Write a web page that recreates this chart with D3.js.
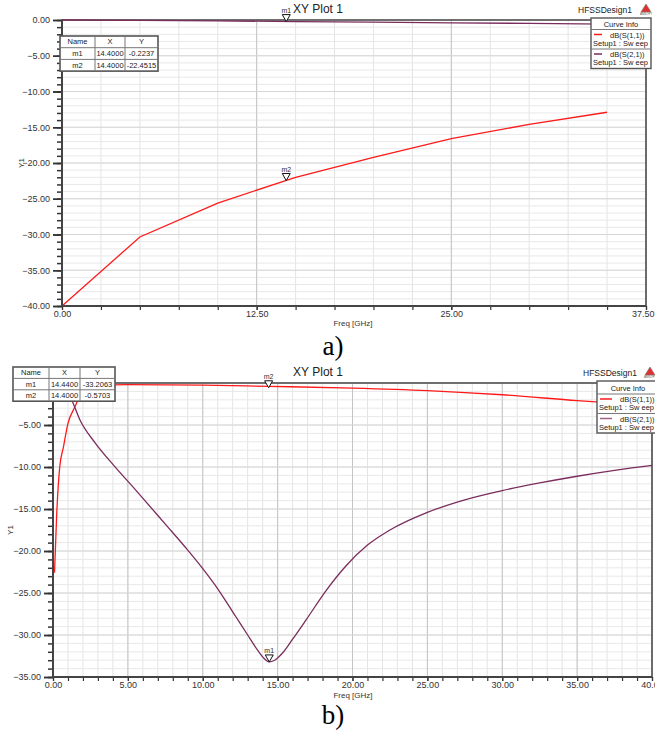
<!DOCTYPE html>
<html>
<head>
<meta charset="utf-8">
<script src="https://cdn.jsdelivr.net/npm/d3@7"></script>
<style>
  body { margin: 0; background: #fff; }
  svg { display: block; font-family: "Liberation Sans", Arial, sans-serif; }
</style>
</head>
<body>
<div id="chart"></div>
<script>
// plot a) - coarse sweep
const freqA = [0, 5, 10, 15, 20, 25, 30, 35];
const s11A = [-40, -30.35, -25.6, -22.0, -19.2, -16.6, -14.6, -12.9];
const s21A = [0, -0.05, -0.12, -0.23, -0.31, -0.39, -0.48, -0.58];
const markersA = [
  { name: 'm1', x: 14.4, y: -0.2237 },
  { name: 'm2', x: 14.4, y: -22.4515 }
];

// plot b) - fine sweep
const freqB11 = [0.1, 0.25, 0.45, 0.7, 1.0, 1.45, 1.9, 2.3, 3, 5, 10, 14.4, 20, 25, 30, 35, 40];
const s11B = [-22.6, -15.5, -10, -7.6, -4.8, -2.9, -1.2, -0.5, -0.3, -0.2, -0.25, -0.4, -0.6, -0.9, -1.4, -2.1, -2.7];
const freqB21 = [0, 0.5, 1.0, 1.24, 1.8, 2.8, 4.1, 5.6, 7.5, 9, 10, 11, 12.2, 13.0, 13.7, 14.1, 14.44, 14.8, 15.3, 16, 16.9, 18.2, 19.5, 21, 22.5, 25, 27.5, 30, 32.5, 35, 37.5, 40];
const s21B = [-0.1, -0.4, -1.2, -2.0, -4.4, -7.1, -9.9, -12.9, -16.8, -19.9, -22.1, -24.5, -27.8, -30.0, -31.9, -32.8, -33.2, -33.0, -32.2, -30.5, -28.2, -24.8, -21.9, -19.3, -17.5, -15.4, -13.9, -12.8, -11.9, -11.1, -10.4, -9.8];
const markersB = [
  { name: 'm1', x: 14.44, y: -33.2063 },
  { name: 'm2', x: 14.4, y: -0.5703 }
];

const curveNames = ['dB(S(1,1))', 'dB(S(2,1))'];
const RED = '#ff1a1a', PURPLE = '#7a2c5c';

const svg = d3.select('#chart').append('svg')
  .attr('width', 655)
  .attr('height', 734);

const fmt = d3.format('.2f');

function drawPlot(cfg) {
  var g = svg.append('g');
  var x = d3.scaleLinear().domain(cfg.xDomain).range([cfg.left, cfg.right]);
  var y = d3.scaleLinear().domain(cfg.yDomain).range([cfg.bottom, cfg.top]);
  var w = cfg.right - cfg.left, h = cfg.bottom - cfg.top;

  // grid: minor then major
  var xMinor = d3.range(cfg.xDomain[0], cfg.xDomain[1] + 1e-9, cfg.xMinor);
  var xMajor = d3.range(cfg.xDomain[0], cfg.xDomain[1] + 1e-9, cfg.xMajor);
  var yMinor = d3.range(cfg.yDomain[0], cfg.yDomain[1] + 1e-9, cfg.yMinor);
  var yMajor = d3.range(cfg.yDomain[0], cfg.yDomain[1] + 1e-9, cfg.yMajor);

  g.append('g').selectAll('line').data(xMinor).join('line')
    .attr('x1', d => x(d)).attr('x2', d => x(d))
    .attr('y1', cfg.top).attr('y2', cfg.bottom)
    .attr('stroke', '#e4e4e4').attr('stroke-width', 1);
  g.append('g').selectAll('line').data(yMinor).join('line')
    .attr('y1', d => y(d)).attr('y2', d => y(d))
    .attr('x1', cfg.left).attr('x2', cfg.right)
    .attr('stroke', '#e8e8e8').attr('stroke-width', 1);
  g.append('g').selectAll('line').data(xMajor).join('line')
    .attr('x1', d => x(d)).attr('x2', d => x(d))
    .attr('y1', cfg.top).attr('y2', cfg.bottom)
    .attr('stroke', '#c4c4c4').attr('stroke-width', 1);
  g.append('g').selectAll('line').data(yMajor).join('line')
    .attr('y1', d => y(d)).attr('y2', d => y(d))
    .attr('x1', cfg.left).attr('x2', cfg.right)
    .attr('stroke', '#d6d6d6').attr('stroke-width', 1);

  // frame (top/right)
  g.append('rect')
    .attr('x', cfg.left).attr('y', cfg.top)
    .attr('width', w).attr('height', h)
    .attr('fill', 'none').attr('stroke', '#222').attr('stroke-width', 1.2);

  // curves
  var line = d3.line().x(d => x(d[0])).y(d => y(d[1])).curve(cfg.curve);
  cfg.series.forEach(function(s) {
    g.append('path')
      .datum(d3.zip(s.x, s.y))
      .attr('d', line)
      .attr('fill', 'none')
      .attr('stroke', s.color)
      .attr('stroke-width', 1.3);
  });

  // axes
  var yLabelVals = yMajor.filter(v => cfg.hideYLabel === undefined || v !== cfg.hideYLabel);
  var yAxisMinor = d3.axisLeft(y).tickValues(yMinor).tickSize(5).tickFormat('');
  var yAxisMajor = d3.axisLeft(y).tickValues(yMajor).tickSize(9).tickFormat('');
  var yAxis = d3.axisLeft(y).tickValues(yLabelVals).tickSize(9).tickPadding(3).tickFormat(fmt);
  var xAxisMinor = d3.axisBottom(x).tickValues(xMinor).tickSize(4).tickFormat('');
  var xAxis = d3.axisBottom(x).tickValues(xMajor).tickSize(4).tickPadding(1).tickFormat(fmt);

  [yAxisMinor, yAxisMajor, yAxis].forEach(function(ax) {
    var a = g.append('g').attr('transform', 'translate(' + cfg.left + ',0)').call(ax);
    a.select('.domain').remove();
    a.selectAll('line').attr('stroke', '#333').attr('stroke-width', 1.5);
    a.selectAll('text').attr('font-size', 9).attr('fill', '#333')
      .attr('font-family', '"Liberation Sans", Arial, sans-serif');
  });
  [xAxisMinor, xAxis].forEach(function(ax) {
    var a = g.append('g').attr('transform', 'translate(0,' + cfg.bottom + ')').call(ax);
    a.select('.domain').remove();
    a.selectAll('line').attr('stroke', '#333').attr('stroke-width', 1.2);
    a.selectAll('text').attr('font-size', 9).attr('fill', '#333')
      .attr('font-family', '"Liberation Sans", Arial, sans-serif');
    if (cfg.lastXLabelEnd) {
      a.selectAll('.tick').filter(d => d === cfg.xDomain[1]).select('text')
        .attr('text-anchor', 'end').attr('x', 655 - cfg.right - 1);
    }
  });

  // thick left / bottom axis lines
  g.append('line').attr('x1', cfg.left).attr('x2', cfg.left)
    .attr('y1', cfg.top).attr('y2', cfg.bottom + 1)
    .attr('stroke', '#444').attr('stroke-width', 2);
  g.append('line').attr('x1', cfg.left - 1).attr('x2', cfg.right)
    .attr('y1', cfg.bottom).attr('y2', cfg.bottom)
    .attr('stroke', '#444').attr('stroke-width', 2);

  // axis titles
  g.append('text')
    .attr('x', cfg.xLabelX).attr('y', cfg.bottom + cfg.xLabelDy)
    .attr('text-anchor', 'middle').attr('font-size', 8).attr('fill', '#333')
    .text('Freq [GHz]');
  g.append('text')
    .attr('transform', 'translate(' + cfg.yLabelX + ',' + cfg.yLabelY + ') rotate(-90)')
    .attr('text-anchor', 'middle').attr('font-size', 8).attr('fill', '#333')
    .text('Y1');

  // markers
  cfg.markers.forEach(function(m) {
    var px = x(m.x), py = y(m.y);
    g.append('path')
      .attr('d', 'M' + (px - 4) + ',' + (py - 7) + 'L' + (px + 4) + ',' + (py - 7) + 'L' + px + ',' + py + 'Z')
      .attr('fill', '#fff').attr('stroke', '#111').attr('stroke-width', 1);
    g.append('text')
      .attr('x', px).attr('y', py - 9)
      .attr('text-anchor', 'middle').attr('font-size', 7).attr('fill', '#333')
      .text(m.name);
  });

  // title + design name + logo
  g.append('text')
    .attr('x', cfg.titleX).attr('y', cfg.titleY)
    .attr('text-anchor', 'middle').attr('font-size', 12).attr('fill', '#222')
    .text('XY Plot 1');
  g.append('text')
    .attr('x', cfg.designX).attr('y', cfg.titleY)
    .attr('font-size', 8.5).attr('fill', '#222')
    .text('HFSSDesign1');
  var lx = cfg.logoX, ly = cfg.titleY - 9;
  g.append('path')
    .attr('d', 'M' + lx + ',' + ly + 'L' + (lx + 5) + ',' + (ly + 8) + 'L' + (lx - 5) + ',' + (ly + 8) + 'Z')
    .attr('fill', '#e03030').attr('stroke', '#777').attr('stroke-width', 0.6);
  g.append('text')
    .attr('x', lx).attr('y', ly + 11)
    .attr('text-anchor', 'middle').attr('font-size', 3).attr('fill', '#555')
    .text('ANSOFT');

  // marker table
  var t = cfg.table;
  var tg = g.append('g');
  var cols = [t.x, t.x + t.cw[0], t.x + t.cw[0] + t.cw[1], t.x + t.cw[0] + t.cw[1] + t.cw[2]];
  var rows = [['Name', 'X', 'Y']].concat(t.rows);
  tg.append('rect').attr('x', cols[0]).attr('y', t.y)
    .attr('width', cols[3] - cols[0]).attr('height', t.rh * rows.length)
    .attr('fill', '#fff').attr('stroke', '#555').attr('stroke-width', 1.6);
  rows.forEach(function(r, i) {
    if (i > 0) {
      tg.append('line').attr('x1', cols[0]).attr('x2', cols[3])
        .attr('y1', t.y + i * t.rh).attr('y2', t.y + i * t.rh)
        .attr('stroke', '#777').attr('stroke-width', 1);
    }
    r.forEach(function(v, j) {
      tg.append('text')
        .attr('x', (cols[j] + cols[j + 1]) / 2).attr('y', t.y + i * t.rh + t.rh / 2 + 2.6)
        .attr('text-anchor', 'middle').attr('font-size', 7.5).attr('fill', '#222')
        .text(v);
    });
  });
  [cols[1], cols[2]].forEach(function(cx) {
    tg.append('line').attr('x1', cx).attr('x2', cx)
      .attr('y1', t.y).attr('y2', t.y + t.rh * rows.length)
      .attr('stroke', '#777').attr('stroke-width', 1);
  });

  // legend box
  var L = cfg.legend;
  var lg = g.append('g');
  lg.append('rect').attr('x', L.x).attr('y', L.y)
    .attr('width', L.w).attr('height', L.hh + 2 * L.eh)
    .attr('fill', '#fff').attr('stroke', '#555').attr('stroke-width', 1.4);
  lg.append('text').attr('x', L.x + L.w / 2).attr('y', L.y + L.hh / 2 + 3)
    .attr('text-anchor', 'middle').attr('font-size', 7.5).attr('fill', '#222')
    .text('Curve Info');
  cfg.series.forEach(function(s, i) {
    var ey = L.y + L.hh + i * L.eh;
    lg.append('line').attr('x1', L.x).attr('x2', L.x + L.w)
      .attr('y1', ey).attr('y2', ey).attr('stroke', '#777').attr('stroke-width', 1);
    lg.append('line').attr('x1', L.x + 3).attr('x2', L.x + 3 + L.sw)
      .attr('y1', ey + 5).attr('y2', ey + 5)
      .attr('stroke', s.legendColor).attr('stroke-width', 1.5);
    lg.append('text').attr('x', L.x + L.tx).attr('y', ey + 8)
      .attr('font-size', 7.5).attr('fill', '#222')
      .text(curveNames[i]);
    lg.append('text').attr('x', L.x + 2).attr('y', ey + 16)
      .attr('font-size', 7.5).attr('fill', '#222')
      .text('Setup1 : Sw eep');
  });

  // caption
  svg.append('text')
    .attr('x', cfg.captionX).attr('y', cfg.captionY)
    .attr('text-anchor', 'middle')
    .attr('font-family', '"Liberation Serif", "Times New Roman", serif')
    .attr('font-size', 27).attr('fill', '#000')
    .text(cfg.caption);
}

drawPlot({
  left: 62, right: 646, top: 20, bottom: 306,
  xDomain: [0, 37.5], yDomain: [-40, 0],
  xMajor: 12.5, xMinor: 2.5, yMajor: 5, yMinor: 1,
  curve: d3.curveLinear,
  series: [
    { x: freqA, y: s11A, color: RED, legendColor: RED },
    { x: freqA, y: s21A, color: PURPLE, legendColor: PURPLE }
  ],
  markers: markersA,
  lastXLabelEnd: true,
  xLabelX: 353, xLabelDy: 20, yLabelX: 24, yLabelY: 163,
  titleX: 318, titleY: 13, designX: 578, logoX: 646,
  table: { x: 60, y: 36, rh: 11.7, cw: [35, 30, 33],
    rows: [['m1', '14.4000', '-0.2237'], ['m2', '14.4000', '-22.4515']] },
  legend: { x: 591, y: 18, w: 60, hh: 11.5, eh: 19.5, sw: 8, tx: 19 },
  caption: 'a)', captionX: 333, captionY: 355
});

drawPlot({
  left: 53, right: 652, top: 383, bottom: 677,
  xDomain: [0, 40], yDomain: [-35, 0],
  xMajor: 5, xMinor: 1, yMajor: 5, yMinor: 1,
  hideYLabel: 0,
  curve: d3.curveMonotoneX,
  series: [
    { x: freqB11, y: s11B, color: RED, legendColor: RED },
    { x: freqB21, y: s21B, color: PURPLE, legendColor: '#a0608a' }
  ],
  markers: markersB,
  xLabelX: 353, xLabelDy: 21, yLabelX: 13, yLabelY: 530,
  titleX: 318, titleY: 376, designX: 583, logoX: 650,
  table: { x: 13, y: 367, rh: 11.4, cw: [36, 31, 35],
    rows: [['m1', '14.4400', '-33.2063'], ['m2', '14.4000', '-0.5703']] },
  legend: { x: 597, y: 381, w: 62, hh: 13, eh: 19.5, sw: 12, tx: 23 },
  caption: 'b)', captionX: 333, captionY: 724
});
</script>
</body>
</html>
